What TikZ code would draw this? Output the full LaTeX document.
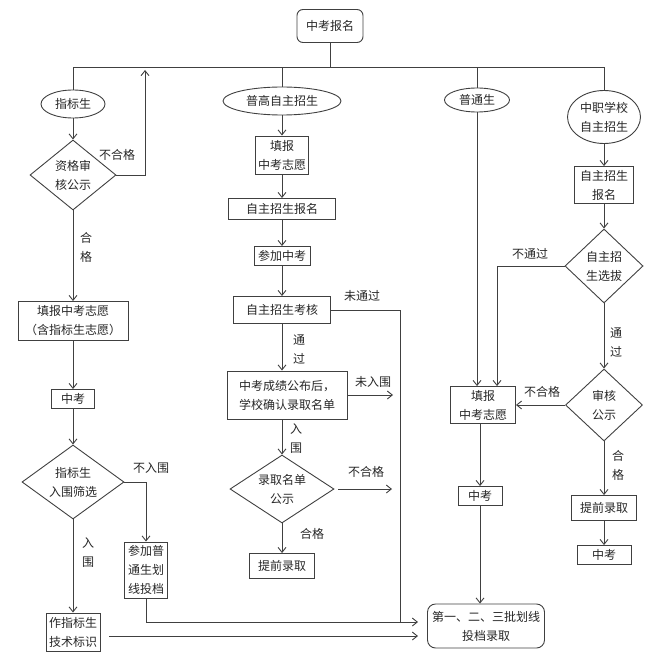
\documentclass[tikz,border=0pt]{standalone}
\usepackage{fontspec}
\newfontfamily\cjkfont{Noto Sans CJK SC}
\usetikzlibrary{shapes.geometric, arrows.meta}
\tikzstyle{Box} = [draw, rectangle, inner sep=2pt, align=center]
\tikzstyle{Round} = [Box, rounded corners=6pt]
\tikzstyle{Oval} = [draw, ellipse, inner sep=0pt, align=center]
\tikzstyle{Decision} = [draw, diamond, aspect=1.4, inner sep=0pt, align=center]
\tikzstyle{Label} = [inner sep=0pt, align=center]
\tikzstyle{Arrow} = [-{Straight Barb[length=5pt,width=8pt]}]

\begin{document}
\begin{tikzpicture}[x=1pt, y=-1pt, line width=0.9pt, draw=black!75, text=black!85,
    every node/.style={font=\cjkfont\fontsize{12}{19}\selectfont}]
    \useasboundingbox (0,0) rectangle (671,671);

    \node [Round, minimum width=66pt, minimum height=33pt] (top) at (330,26) {中考报名};
    \coordinate (busL) at (73,67);
    \coordinate (busR) at (604,67);
    \coordinate (back) at (145,70);
    \coordinate (in1) at (418,622);
    \coordinate (in2) at (418,636);
    \coordinate (join) at (400,622);
    \coordinate (wrw) at (393,395);
    \coordinate (bhg) at (392,489);

    % 指标生
    \node [Oval, minimum width=64pt, minimum height=28pt] (zbs) at (73,104) {指标生};
    \node [Decision, minimum width=86pt, minimum height=70pt] (zgsh) at (73,175) {资格审\\核公示};
    \node [Box, minimum width=110pt, minimum height=39pt] (tbz1) at (73,321) {填报中考志愿\\（含指标生志愿）};
    \node [Box, minimum width=43pt, minimum height=19pt] (zk1) at (73,399) {中考};
    \node [Decision, minimum width=102pt, minimum height=74pt] (rw) at (73,482) {指标生\\入围筛选};
    \node [Box, minimum width=43pt, minimum height=56pt] (cj) at (146,570) {参加普\\通生划\\线投档};
    \node [Box, minimum width=54pt, minimum height=38pt] (zjb) at (73,632) {作指标生\\技术标识};

    % 普高自主招生
    \node [Oval, minimum width=118pt, minimum height=28pt] (pg) at (282,101) {普高自主招生};
    \node [Box, minimum width=53pt, minimum height=38pt] (tb1) at (282,155) {填报\\中考志愿};
    \node [Box, minimum width=107pt, minimum height=21pt] (bm) at (282,209) {自主招生报名};
    \node [Box, minimum width=56pt, minimum height=19pt] (ck) at (282,256) {参加中考};
    \node [Box, minimum width=97pt, minimum height=27pt] (khe) at (282,310) {自主招生考核};
    \node [Box, minimum width=120pt, minimum height=48pt] (cjgb) at (287,395) {中考成绩公布后，\\学校确认录取名单};
    \node [Decision, minimum width=104pt, minimum height=68pt] (lqgs) at (282,489) {录取名单\\公示};
    \node [Box, minimum width=65pt, minimum height=25pt] (tq1) at (282,566) {提前录取};

    % 普通生
    \node [Oval, minimum width=65pt, minimum height=24pt] (pt) at (477,100) {普通生};
    \node [Box, minimum width=65pt, minimum height=37pt] (tb2) at (483,405) {填报\\中考志愿};
    \node [Box, minimum width=44pt, minimum height=19pt] (zk2) at (480,496) {中考};
    \node [Round, rounded corners=8pt, minimum width=117pt, minimum height=44pt] (final) at (486,626) {第一、二、三批划线\\投档录取};

    % 中职学校自主招生
    \node [Oval, minimum width=73pt, minimum height=53pt] (zz) at (604,117) {中职学校\\自主招生};
    \node [Box, minimum width=59pt, minimum height=37pt] (bm2) at (604,185) {自主招生\\报名};
    \node [Decision, minimum width=77pt, minimum height=74pt] (xb) at (604,266) {自主招\\生选拔};
    \node [Decision, minimum width=77pt, minimum height=72pt] (sh) at (604,405) {审核\\公示};
    \node [Box, minimum width=65pt, minimum height=25pt] (tq2) at (604,508) {提前录取};
    \node [Box, minimum width=54pt, minimum height=19pt] (zk3) at (604,555) {中考};

    \node [Label] (l1) at (117,155) {不合格};
    \node [Label] (l2) at (86,247) {合\\格};
    \node [Label] (l3) at (151,468) {不入围};
    \node [Label] (l4) at (88,553) {入\\围};
    \node [Label] (l5) at (362,296) {未通过};
    \node [Label] (l6) at (299,349) {通\\过};
    \node [Label] (l7) at (373,382) {未入围};
    \node [Label] (l8) at (296,439) {入\\围};
    \node [Label] (l9) at (366,472) {不合格};
    \node [Label] (l10) at (312,534) {合格};
    \node [Label] (l11) at (530,254) {不通过};
    \node [Label] (l12) at (616,342) {通\\过};
    \node [Label] (l13) at (542,392) {不合格};
    \node [Label] (l14) at (618,465) {合\\格};

    \draw (top) -- (top |- busL);
    \draw (busL) -- (busR);
    \draw (zbs) -- (zbs |- busL);
    \draw (pg) -- (pg |- busL);
    \draw (pt) -- (pt |- busL);
    \draw (zz) -- (zz |- busL);

    \draw[Arrow] (zbs) -- (zgsh);
    \draw[Arrow] (zgsh.east) -| (back);
    \draw[Arrow] (zgsh) -- (tbz1);
    \draw[Arrow] (tbz1) -- (zk1);
    \draw[Arrow] (zk1) -- (rw);
    \draw[Arrow] (rw) -- (zjb);
    \draw[Arrow] (rw.east) -| (cj.north);
    \draw[Arrow] (cj.south) |- (in1);
    \draw[Arrow, shorten <=9pt] (zjb.east |- in2) -- (in2);

    \draw[Arrow] (pg) -- (tb1);
    \draw[Arrow] (tb1) -- (bm);
    \draw[Arrow] (bm) -- (ck);
    \draw[Arrow] (ck) -- (khe);
    \draw (khe.east) -| (join);
    \draw[Arrow] (khe) -- (khe |- cjgb.north);
    \draw[Arrow] (cjgb.east) -- (wrw);
    \draw[Arrow] (lqgs |- cjgb.south) -- (lqgs);
    \draw[Arrow, shorten <=4pt] (lqgs.east) -- (bhg);
    \draw[Arrow] (lqgs) -- (tq1);

    \draw[Arrow] (pt) -- (pt |- tb2.north);
    \draw[Arrow] (zk2 |- tb2.south) -- (zk2);
    \draw[Arrow] (zk2) -- (zk2 |- final.north);

    \draw[Arrow] (zz) -- (bm2);
    \draw[Arrow] (bm2) -- (xb);
    \draw[Arrow] (xb.west) -| ([xshift=14pt]tb2.north);
    \draw[Arrow] (xb) -- (sh);
    \draw[Arrow] (sh) -- (tb2);
    \draw[Arrow] (sh) -- (tq2);
    \draw[Arrow] (tq2) -- (zk3);
\end{tikzpicture}
\end{document}
